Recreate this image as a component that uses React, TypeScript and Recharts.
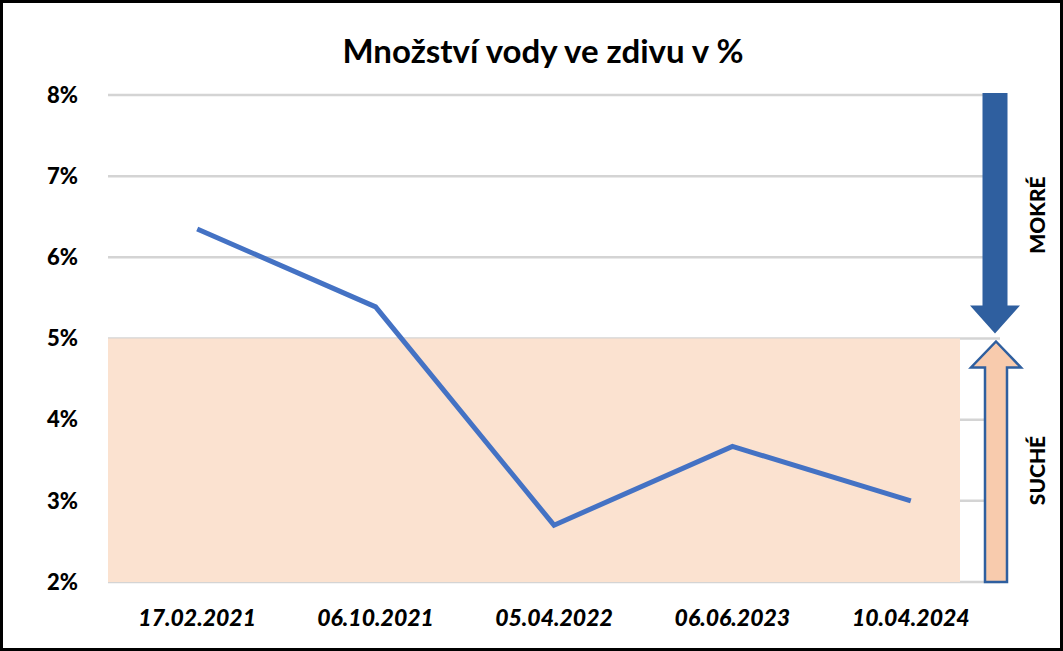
import React from 'react';
import { LineChart, Line, XAxis, YAxis, CartesianGrid, ReferenceArea } from 'recharts';

const categories = ['17.02.2021', '06.10.2021', '05.04.2022', '06.06.2023', '10.04.2024'];
const waterPct = [6.35, 5.39, 2.7, 3.67, 3.0];
const yTicks = [2, 3, 4, 5, 6, 7, 8];
const title = 'Množství vody ve zdivu v %';
const wetLabel = 'MOKRÉ';
const dryLabel = 'SUCHÉ';
const dryLimit = 5;

const data = categories.map((c, i) => ({ date: c, value: waterPct[i] }));

const FONT = 'Lato, "Open Sans", sans-serif';

const DryShade = (p: any) => (
  <rect x={p.x} y={p.y} width={Math.max(0, p.width - 40)} height={p.height} fill="#FBE2D0" />
);

const WetArrow = (p: any) => {
  const cx = p.x + p.width - 5;
  const top = p.y - 2;
  const tip = p.y + p.height - 5;
  const headH = 28;
  const bw = 12.5;
  const hw = 25;
  const d = `M${cx - bw},${top} L${cx + bw},${top} L${cx + bw},${tip - headH} L${cx + hw},${tip - headH} L${cx},${tip} L${cx - hw},${tip - headH} L${cx - bw},${tip - headH} Z`;
  return (
    <g>
      <path d={d} fill="#2F5F9F" />
      <text
        x={cx + 41}
        y={p.y + 120}
        transform={`rotate(-90 ${cx + 41} ${p.y + 120})`}
        textAnchor="middle"
        dominantBaseline="central"
        fontFamily={FONT}
        fontWeight={900}
        fontSize={21}
        fill="#000"
      >
        {wetLabel}
      </text>
    </g>
  );
};

const DryArrow = (p: any) => {
  const cx = p.x + p.width - 4;
  const tip = p.y + 3;
  const bottom = p.y + p.height;
  const headH = 26;
  const bw = 11;
  const hw = 25;
  const d = `M${cx},${tip} L${cx + hw},${tip + headH} L${cx + bw},${tip + headH} L${cx + bw},${bottom} L${cx - bw},${bottom} L${cx - bw},${tip + headH} L${cx - hw},${tip + headH} Z`;
  return (
    <g>
      <path d={d} fill="#F8CBAD" stroke="#2F5F9F" strokeWidth={2.5} strokeLinejoin="miter" />
      <text
        x={cx + 40}
        y={p.y + 132}
        transform={`rotate(-90 ${cx + 40} ${p.y + 132})`}
        textAnchor="middle"
        dominantBaseline="central"
        fontFamily={FONT}
        fontWeight={900}
        fontSize={21}
        fill="#000"
      >
        {dryLabel}
      </text>
    </g>
  );
};

export default function App() {
  return (
    <div
      style={{
        position: 'absolute',
        left: 0,
        top: 0,
        width: 1063,
        height: 651,
        background: '#fff',
        boxSizing: 'border-box',
        border: '3px solid #000',
        overflow: 'hidden',
      }}
    >
      <div
        style={{
          position: 'absolute',
          left: 0,
          top: 27,
          width: 1080,
          textAlign: 'center',
          fontFamily: FONT,
          fontWeight: 700,
          fontSize: 33,
          color: '#000',
          lineHeight: '40px',
        }}
      >
        {title}
      </div>
      <div style={{ position: 'absolute', left: -3, top: -3 }}>
        <LineChart width={1063} height={651} data={data} margin={{ top: 95, right: 63, bottom: 39, left: 0 }}>
          <CartesianGrid horizontal vertical={false} stroke="#D4D4D4" strokeWidth={2.5} />
          <ReferenceArea y1={2} y2={dryLimit} shape={DryShade} ifOverflow="visible" />
          <XAxis
            dataKey="date"
            scale="band"
            height={30}
            axisLine={false}
            tickLine={false}
            tickMargin={22}
            tick={{ fontFamily: FONT, fontWeight: 900, fontStyle: 'italic', fontSize: 23, fill: '#000' }}
          />
          <YAxis
            width={108}
            domain={[2, 8]}
            ticks={yTicks}
            tickFormatter={(v: number) => `${v}%`}
            axisLine={false}
            tickLine={false}
            tickMargin={24}
            tick={{ fontFamily: FONT, fontWeight: 900, fontSize: 22, fill: '#000' }}
          />
          <ReferenceArea y1={dryLimit} y2={8} shape={WetArrow} ifOverflow="visible" />
          <ReferenceArea y1={2} y2={dryLimit} shape={DryArrow} ifOverflow="visible" />
          <Line
            type="linear"
            dataKey="value"
            stroke="#4472C4"
            strokeWidth={5}
            dot={false}
            activeDot={false}
            isAnimationActive={false}
          />
        </LineChart>
      </div>
    </div>
  );
}
